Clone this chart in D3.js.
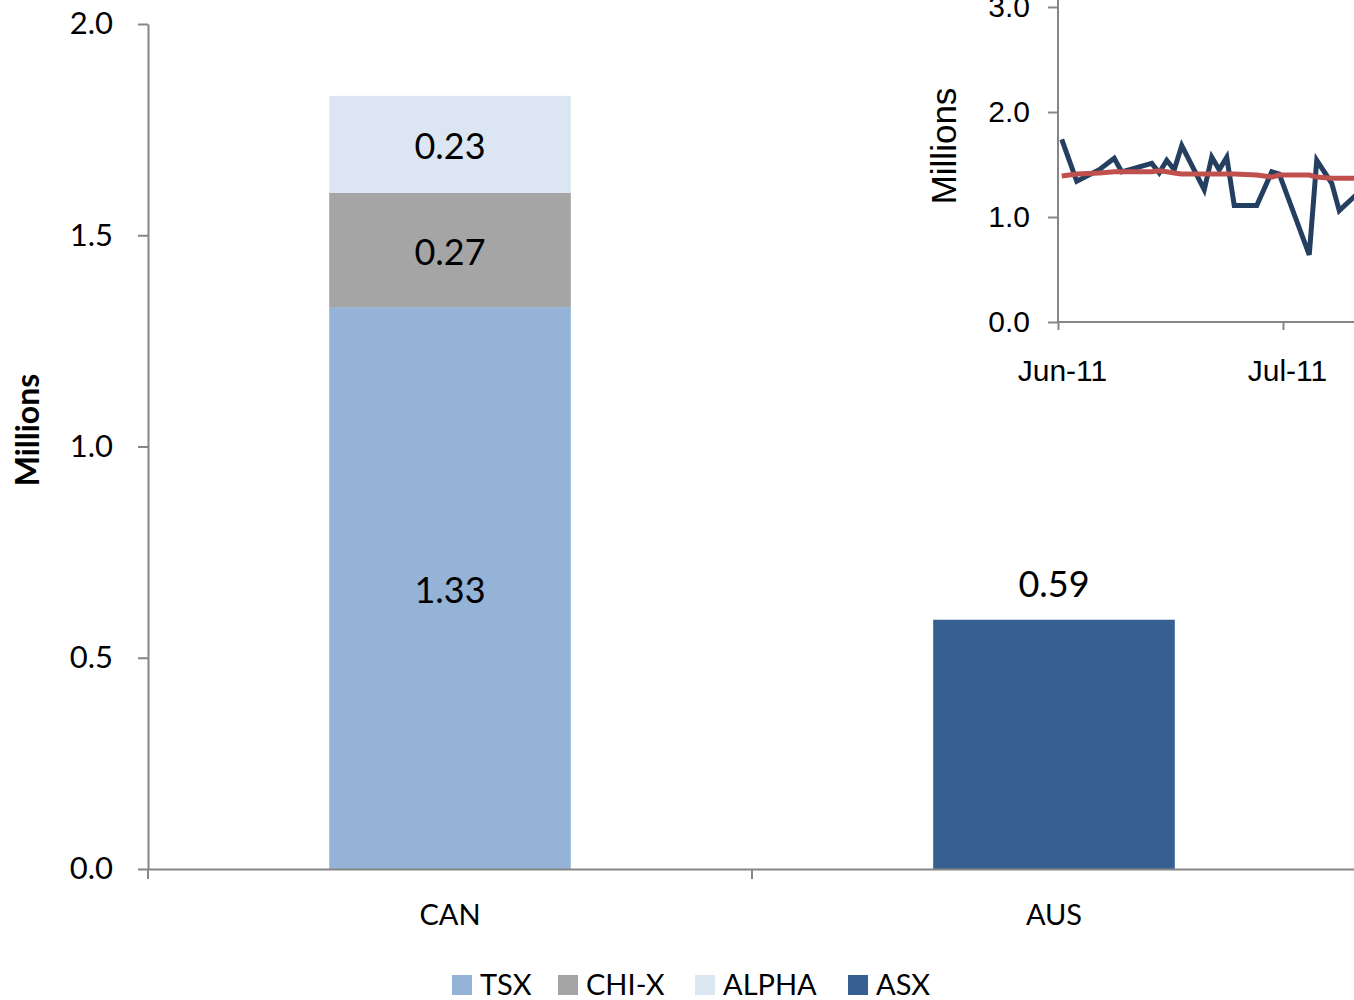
<!DOCTYPE html>
<html lang="en">
<head>
  <meta charset="UTF-8">
  <title>Volumes by venue</title>
  <script src="https://d3js.org/d3.v7.min.js"></script>
  <style>
    body { background: #fff; margin: 0; }
    svg { display: block; }
    .main text { font-family: Lato, "Open Sans", sans-serif; fill: #000; }
    .inset text { font-family: "Liberation Sans", Arial, sans-serif; fill: #000; }
    .axis path, .axis line { stroke: #868686; stroke-width: 2; }
  </style>
</head>
<body>
<svg width="1354" height="1000"></svg>
<script>
// main chart data
const countries = ["CAN", "AUS"];
const venues = ["TSX", "CHI-X", "ALPHA", "ASX"];
const venueColors = ["#95B3D7", "#A5A5A5", "#DCE6F2", "#366092"];
const canValues = [1.33, 0.27, 0.23, 0];
const ausValues = [0, 0, 0, 0.59];
const yTicks = [0, 0.5, 1.0, 1.5, 2.0];

// inset data (daily, Jun-Jul 2011)
const insetDates = ["2011-06-01", "2011-06-03", "2011-06-06", "2011-06-08", "2011-06-09",
  "2011-06-13", "2011-06-14", "2011-06-15", "2011-06-16", "2011-06-17", "2011-06-20",
  "2011-06-21", "2011-06-22", "2011-06-23", "2011-06-24", "2011-06-27", "2011-06-29",
  "2011-06-30", "2011-07-04", "2011-07-05", "2011-07-07", "2011-07-08", "2011-07-11"];
const dailyVolume = [1.74, 1.34, 1.45, 1.56, 1.43, 1.51, 1.42, 1.54, 1.45, 1.68, 1.26,
  1.57, 1.45, 1.57, 1.11, 1.11, 1.43, 1.41, 0.64, 1.54, 1.32, 1.06, 1.26];
const avgVolume = [1.39, 1.41, 1.42, 1.43, 1.43, 1.43, 1.44, 1.43, 1.42, 1.41, 1.41,
  1.41, 1.41, 1.41, 1.41, 1.40, 1.38, 1.40, 1.40, 1.38, 1.37, 1.37, 1.37];
const insetYTicks = [0, 1, 2, 3];
const insetMonths = ["2011-06-01", "2011-07-01"];

const svg = d3.select("svg");
const main = svg.append("g").attr("class", "main");

const x = d3.scaleBand().domain(countries).range([148, 1356]);
const y = d3.scaleLinear().domain([0, 2]).range([869, 24]);
const barW = x.bandwidth() / 2.5;

const stacks = [canValues, ausValues];
stacks.forEach((vals, ci) => {
  let base = 0;
  const cx = x(countries[ci]) + x.bandwidth() / 2;
  vals.forEach((v, vi) => {
    if (!v) return;
    main.append("rect")
      .attr("x", cx - barW / 2)
      .attr("y", y(base + v))
      .attr("width", barW)
      .attr("height", y(base) - y(base + v))
      .attr("fill", venueColors[vi]);
    const single = vals.filter(d => d).length === 1;
    main.append("text")
      .attr("x", cx)
      .attr("y", single ? y(base + v) - 35 : y(base + v / 2) + 2)
      .attr("dy", "0.35em")
      .attr("text-anchor", "middle")
      .style("font-size", "36px")
      .text(v.toFixed(2));
    base += v;
  });
});

// axes
main.append("g").attr("class", "axis")
  .attr("transform", "translate(148,0)")
  .call(d3.axisLeft(y).tickValues(yTicks).tickFormat(d3.format(".1f")).tickSize(10).tickSizeOuter(0).tickPadding(25))
  .call(g => g.selectAll("text").style("font-size", "31px").attr("font-family", null));

main.append("g").attr("class", "axis")
  .attr("transform", "translate(0,869)")
  .call(d3.axisBottom(x).tickSize(10).tickSizeOuter(0).tickFormat(""))
  .call(g => g.selectAll(".tick line").attr("transform", `translate(${-x.bandwidth() / 2},0)`));

countries.forEach(c => {
  main.append("text")
    .attr("x", x(c) + x.bandwidth() / 2)
    .attr("y", 915)
    .attr("dy", "0.35em")
    .attr("text-anchor", "middle")
    .style("font-size", "29px")
    .text(c);
});

main.append("text")
  .attr("transform", "translate(28,430) rotate(-90)")
  .attr("dy", "0.35em")
  .attr("text-anchor", "middle")
  .style("font-size", "32px")
  .style("font-weight", "bold")
  .text("Millions");

// legend
const legendX = [452, 558, 695, 848];
venues.forEach((v, i) => {
  main.append("rect")
    .attr("x", legendX[i]).attr("y", 975)
    .attr("width", 20).attr("height", 20)
    .attr("fill", venueColors[i]);
  main.append("text")
    .attr("x", legendX[i] + 28).attr("y", 985)
    .attr("dy", "0.35em")
    .style("font-size", "29px")
    .text(v);
});

// inset chart
const inset = svg.append("g").attr("class", "inset");
const parse = d3.timeParse("%Y-%m-%d");
const ix = d3.scaleTime().domain([parse("2011-06-01"), parse("2011-07-01")]).range([1058, 1283]);
const iy = d3.scaleLinear().domain([0, 3]).range([322, 7]);
const noon = s => d3.timeHour.offset(parse(s), 12);

inset.append("g").attr("class", "axis")
  .attr("transform", "translate(1058,0)")
  .call(d3.axisLeft(iy).tickValues(insetYTicks).tickFormat(d3.format(".1f")).tickSize(10).tickSizeOuter(0).tickPadding(18))
  .call(g => g.select(".domain").attr("d", "M0,0V322"))
  .call(g => g.selectAll("text").style("font-size", "30px").attr("font-family", null));

inset.append("g").attr("class", "axis")
  .attr("transform", "translate(0,322)")
  .call(d3.axisBottom(ix).tickValues(insetMonths.map(parse)).tickFormat(d3.timeFormat("%b-%y")).tickSize(8).tickSizeOuter(0).tickPadding(30))
  .call(g => g.select(".domain").attr("d", "M1058,0H1354"))
  .call(g => g.selectAll("text").style("font-size", "30px").attr("font-family", null)
    .attr("transform", "translate(4,0)"));

const line = vals => d3.line()
  .x((d, i) => ix(noon(insetDates[i])))
  .y(d => iy(d))(vals);

inset.append("path")
  .attr("d", line(dailyVolume))
  .attr("fill", "none")
  .attr("stroke", "#243F60")
  .attr("stroke-width", 5)
  .attr("stroke-linejoin", "miter");

inset.append("path")
  .attr("d", line(avgVolume))
  .attr("fill", "none")
  .attr("stroke", "#C0504D")
  .attr("stroke-width", 5)
  .attr("stroke-linejoin", "round");

inset.append("text")
  .attr("transform", "translate(944,146) rotate(-90)")
  .attr("dy", "0.35em")
  .attr("text-anchor", "middle")
  .style("font-size", "35px")
  .text("Millions");
</script>
</body>
</html>
